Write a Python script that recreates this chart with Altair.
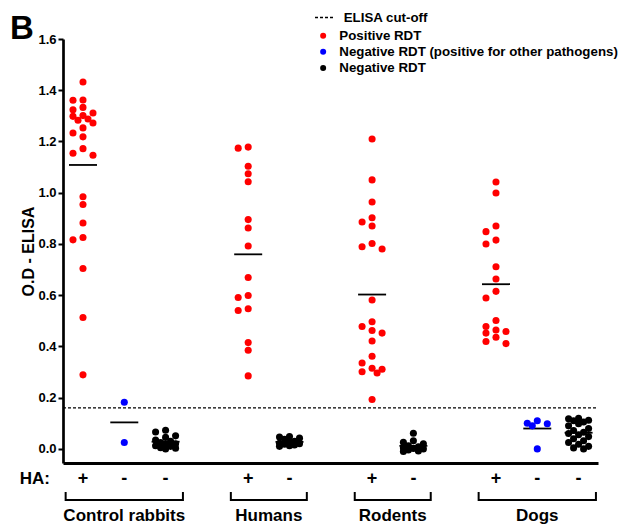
import altair as alt
import pandas as pd

# ---------------- data ----------------
groups = ["Control rabbits", "Humans", "Rodents", "Dogs"]
statuses = ["Positive RDT", "Negative RDT (positive for other pathogens)", "Negative RDT"]
status_colors = ["#ff0000", "#0000ff", "#000000"]
cutoff_label = "ELISA cut-off"
cutoff_value = 0.16
y_ticks = [0.0, 0.2, 0.4, 0.6, 0.8, 1.0, 1.2, 1.4, 1.6]

rabbit_pos = [1.432, 1.362, 1.361, 1.333, 1.324, 1.311, 1.298, 1.301, 1.288, 1.272,
              1.283, 1.253, 1.233, 1.218, 1.172, 1.154, 1.146, 0.984, 0.954, 0.882,
              0.825, 0.816, 0.704, 0.513, 0.289]
rabbit_negb = [0.182, 0.025]
rabbit_neg = [0.073, 0.066, 0.051, 0.045, 0.035, 0.030, 0.025, 0.020, 0.018, 0.012,
              0.010, 0.005, 0.003, 0.000]
human_pos = [1.178, 1.174, 1.103, 1.074, 1.043, 0.895, 0.862, 0.792, 0.669, 0.599,
             0.591, 0.540, 0.547, 0.415, 0.385, 0.285]
human_neg = [0.048, 0.046, 0.042, 0.038, 0.030, 0.028, 0.022, 0.020, 0.018, 0.015,
             0.012, 0.010]
rodent_pos = [1.210, 1.050, 0.964, 0.886, 0.870, 0.902, 0.802, 0.780, 0.789, 0.581,
              0.496, 0.478, 0.452, 0.462, 0.421, 0.362, 0.335, 0.315, 0.301, 0.296,
              0.311, 0.193]
rodent_neg = [0.061, 0.032, 0.026, 0.020, 0.012, 0.008, 0.004, 0.002, 0.000, -0.004,
              -0.008, -0.010]
dog_pos = [1.042, 0.999, 0.870, 0.848, 0.815, 0.800, 0.711, 0.663, 0.615, 0.589,
           0.501, 0.478, 0.458, 0.452, 0.464, 0.436, 0.411, 0.419]
dog_negb = [0.110, 0.100, 0.098, 0.090, 0.000]
dog_neg = [0.120, 0.118, 0.112, 0.110, 0.105, 0.098, 0.090, 0.080, 0.072, 0.065,
           0.060, 0.055, 0.048, 0.040, 0.032, 0.025, 0.018, 0.010, 0.004, 0.000]

# columns of the dot plot: (group, HA sign, RDT status, values)
columns = [
    (groups[0], "+", statuses[0], rabbit_pos),
    (groups[0], "-", statuses[1], rabbit_negb),
    (groups[0], "-", statuses[2], rabbit_neg),
    (groups[1], "+", statuses[0], human_pos),
    (groups[1], "-", statuses[2], human_neg),
    (groups[2], "+", statuses[0], rodent_pos),
    (groups[2], "-", statuses[2], rodent_neg),
    (groups[3], "+", statuses[0], dog_pos),
    (groups[3], "-", statuses[1], dog_negb),
    (groups[3], "-", statuses[2], dog_neg),
]

# ---------------- layout ----------------
W, H = 535, 424
X_DOM = [-0.484, 12.47]
Y_DOM = [-0.055, 1.6]
px_slot = W / (X_DOM[1] - X_DOM[0])
px_unit = H / (Y_DOM[1] - Y_DOM[0])
FONT = "Liberation Sans"


def swarm(vals, diam=7.0, step=5.0):
    """Simple beeswarm: horizontal offsets (px) so dots overlap little."""
    order = sorted(range(len(vals)), key=lambda i: -vals[i])
    cands = [0, -2, 2, -1, 1]
    placed, offs = [], [0.0] * len(vals)
    for i in order:
        y = vals[i] * px_unit
        best, best_d = 0.0, -1.0
        for c in cands:
            xo = c * step
            d = min([((xo - px) ** 2 + (y - py) ** 2) ** 0.5 for px, py in placed] or [1e9])
            if d >= diam:
                best = xo
                break
            if d > best_d:
                best, best_d = xo, d
        placed.append((best, y))
        offs[i] = best
    return offs


rows, means, signs = [], [], []
slot, prev = 0, None
group_slots = {}
for grp, sign, status, vals in columns:
    if prev is not None and grp != prev:
        slot += 1
    prev = grp
    group_slots.setdefault(grp, []).append(slot)
    offs = swarm(vals)
    for v, o in zip(vals, offs):
        rows.append({"group": grp, "status": status, "value": v, "x": slot + o / px_slot})
    m = sum(vals) / len(vals)
    half = 14 / px_slot
    means.append({"value": m, "x1": slot - half, "x2": slot + half})
    signs.append({"x": slot, "sign": sign})
    slot += 1

points_df = pd.DataFrame(rows)
means_df = pd.DataFrame(means)
signs_df = pd.DataFrame(signs)
br = []
for g in groups:
    s = group_slots[g]
    br.append({"group": g, "x1": min(s) - 0.42, "x2": max(s) + 0.42,
               "xc": (min(s) + max(s)) / 2})
brackets_df = pd.DataFrame(br)
cut_df = pd.DataFrame({"value": [cutoff_value], "label": [cutoff_label]})

xscale = alt.Scale(domain=X_DOM, nice=False, zero=False)
yscale = alt.Scale(domain=Y_DOM, nice=False, zero=False)
xaxis = alt.Axis(labels=False, ticks=False, title=None, grid=False,
                 domainColor="black", domainWidth=2.8)
yaxis = alt.Axis(values=y_ticks, format=".1f", grid=False, domainColor="black",
                 domainWidth=2.7, tickColor="black", tickWidth=2, tickSize=5,
                 labelFontSize=13, labelFontWeight="bold", labelColor="black",
                 labelFont=FONT, labelPadding=2, titleFontSize=16,
                 titleFontWeight="bold", titleColor="black", titleFont=FONT,
                 titlePadding=1)


def X(f):
    return alt.X(f, scale=xscale, axis=xaxis, title=None)


def Y(f):
    return alt.Y(f, scale=yscale, axis=yaxis, title="O.D - ELISA")


cut = alt.Chart(cut_df).mark_rule(color="black", strokeWidth=1.2).encode(
    y=Y("value:Q"), x=alt.value(0), x2=alt.value(W),
    strokeDash=alt.StrokeDash(
        "label:N",
        scale=alt.Scale(domain=[cutoff_label], range=[[3, 2]]),
        legend=alt.Legend(title=None, orient="none", legendX=251, legendY=-32,
                          symbolType="stroke", symbolSize=361,
                          symbolStrokeColor="black", symbolStrokeWidth=1.3,
                          labelFontSize=13.3, labelFontWeight="bold", labelFont=FONT,
                          labelColor="black", labelOffset=8.7, padding=0)))

mean_lines = alt.Chart(means_df).mark_rule(color="black", strokeWidth=1.8).encode(
    x=X("x1:Q"), x2="x2:Q", y=Y("value:Q"))

pts = alt.Chart(points_df).mark_circle(size=50, opacity=1).encode(
    x=X("x:Q"), y=Y("value:Q"),
    color=alt.Color("status:N",
                    scale=alt.Scale(domain=statuses, range=status_colors),
                    legend=alt.Legend(title=None, orient="none", legendX=253.5,
                                      legendY=-10, symbolType="circle",
                                      symbolSize=36, symbolOpacity=1,
                                      labelFontSize=13.3, labelFontWeight="bold",
                                      labelFont=FONT, labelColor="black",
                                      labelOffset=9.5, rowPadding=2.2, padding=0,
                                      labelLimit=400)))

sign_txt = alt.Chart(signs_df).mark_text(fontSize=18, fontWeight="bold", font=FONT,
                                         color="black", baseline="middle").encode(
    x=X("x:Q"), y=alt.value(440), text="sign:N")

br_h = alt.Chart(brackets_df).mark_rule(color="black", strokeWidth=2).encode(
    x=X("x1:Q"), x2="x2:Q", y=alt.value(461))
br_l = alt.Chart(brackets_df).mark_rule(color="black", strokeWidth=2).encode(
    x=X("x1:Q"), y=alt.value(453), y2=alt.value(462))
br_r = alt.Chart(brackets_df).mark_rule(color="black", strokeWidth=2).encode(
    x=X("x2:Q"), y=alt.value(453), y2=alt.value(462))

grp_txt = alt.Chart(brackets_df).mark_text(fontSize=17, fontWeight="bold", font=FONT,
                                           color="black", baseline="middle").encode(
    x=X("xc:Q"), y=alt.value(477), text="group:N")

ha_txt = alt.Chart(pd.DataFrame({"t": ["HA:"]})).mark_text(
    fontSize=17, fontWeight="bold", font=FONT, color="black", align="right",
    baseline="middle").encode(x=alt.value(-13), y=alt.value(440), text="t:N")

b_txt = alt.Chart(pd.DataFrame({"t": ["B"]})).mark_text(
    fontSize=33, fontWeight="bold", font=FONT, color="black", align="left",
    baseline="alphabetic").encode(x=alt.value(-53), y=alt.value(0), text="t:N")

chart = alt.layer(cut, mean_lines, pts, sign_txt, br_h, br_l, br_r, grp_txt,
                  ha_txt, b_txt).properties(
    width=W, height=H,
    padding={"left": 55, "top": 31, "right": 25, "bottom": 63},
    autosize=alt.AutoSizeParams(type="none"),
).configure_view(stroke=None)

chart.save("out.html", embed_options={"renderer": "svg", "actions": False})
